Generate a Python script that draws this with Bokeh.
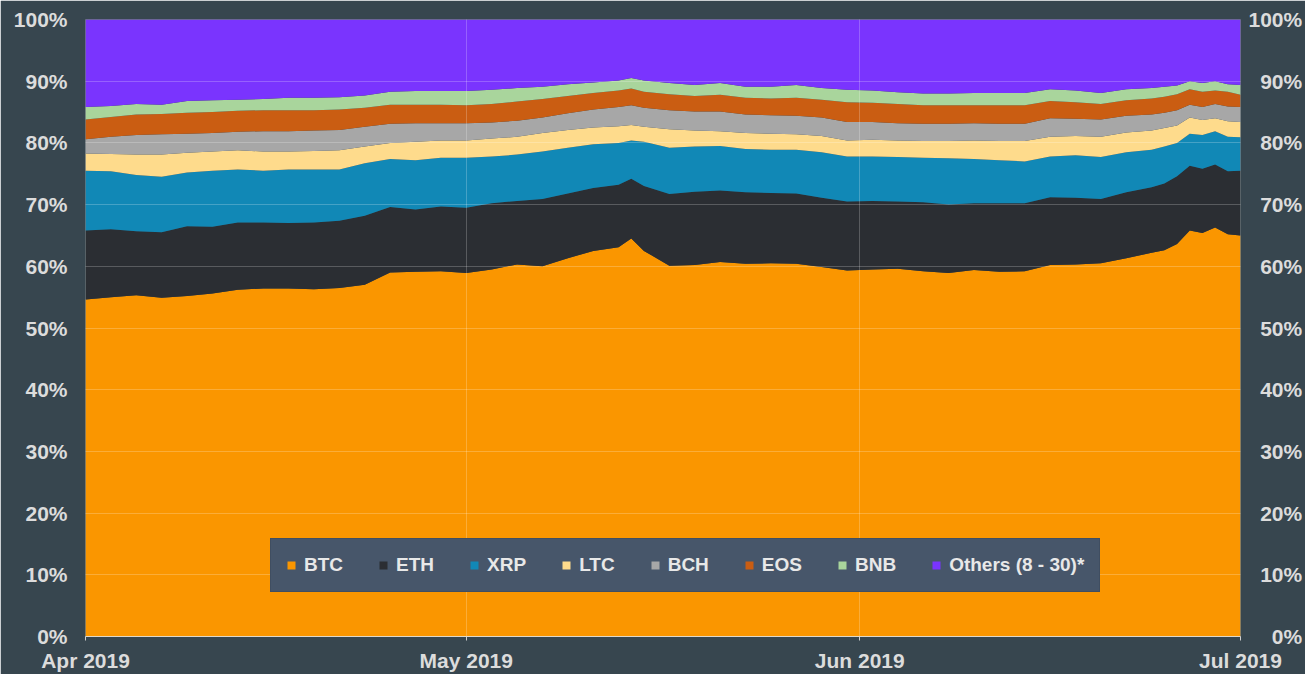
import pandas as pd
from bokeh.plotting import figure
from bokeh.models import (ColumnDataSource, Range1d, LinearAxis, FixedTicker,
                          DatetimeTickFormatter, PrintfTickFormatter)
from bokeh.embed import file_html
from bokeh.resources import INLINE

# ---------------- data (market share, % of total) ----------------
dates = ["2019-04-01", "2019-04-03", "2019-04-05", "2019-04-07", "2019-04-09", "2019-04-11",
         "2019-04-13", "2019-04-15", "2019-04-17", "2019-04-19", "2019-04-21", "2019-04-23",
         "2019-04-25", "2019-04-27", "2019-04-29", "2019-05-01", "2019-05-03", "2019-05-05",
         "2019-05-07", "2019-05-09", "2019-05-11", "2019-05-13", "2019-05-14", "2019-05-15",
         "2019-05-17", "2019-05-19", "2019-05-21", "2019-05-23", "2019-05-25", "2019-05-27",
         "2019-05-29", "2019-05-31", "2019-06-02", "2019-06-04", "2019-06-06", "2019-06-08",
         "2019-06-10", "2019-06-12", "2019-06-14", "2019-06-16", "2019-06-18", "2019-06-20",
         "2019-06-22", "2019-06-24", "2019-06-25", "2019-06-26", "2019-06-27", "2019-06-28",
         "2019-06-29", "2019-06-30", "2019-07-01"]

btc = [54.6, 55.0, 55.3, 54.9, 55.2, 55.6, 56.2, 56.4, 56.4, 56.3, 56.5, 57.0, 59.0, 59.1, 59.2,
       58.9, 59.5, 60.3, 60.0, 61.3, 62.5, 63.1, 64.5, 62.5, 60.1, 60.2, 60.7, 60.4, 60.5, 60.4,
       59.9, 59.3, 59.5, 59.6, 59.2, 58.9, 59.4, 59.1, 59.2, 60.2, 60.3, 60.5, 61.3, 62.2, 62.6,
       63.6, 65.8, 65.4, 66.3, 65.2, 65.0]
eth = [11.2, 11.0, 10.4, 10.6, 11.3, 10.8, 10.9, 10.7, 10.6, 10.8, 10.9, 11.2, 10.6, 10.1, 10.5,
       10.6, 10.7, 10.3, 10.9, 10.5, 10.2, 10.1, 9.7, 10.5, 11.6, 11.9, 11.6, 11.6, 11.4, 11.4,
       11.2, 11.2, 11.1, 10.9, 11.2, 11.1, 10.8, 11.1, 11.0, 11.0, 10.8, 10.4, 10.7, 10.6, 10.8,
       11.0, 10.5, 10.4, 10.2, 10.2, 10.5]
xrp = [9.7, 9.4, 9.1, 9.0, 8.7, 9.1, 8.6, 8.4, 8.7, 8.6, 8.3, 8.5, 7.8, 8.0, 7.9,
       8.1, 7.6, 7.5, 7.7, 7.4, 7.1, 6.8, 6.2, 7.2, 7.5, 7.3, 7.2, 7.0, 7.0, 7.1,
       7.4, 7.3, 7.2, 7.2, 7.2, 7.5, 7.2, 7.0, 6.8, 6.6, 6.9, 6.8, 6.5, 6.1, 6.0,
       5.4, 5.2, 5.5, 5.4, 5.6, 5.4]
ltc = [2.8, 2.8, 3.3, 3.6, 3.2, 3.1, 3.1, 3.1, 2.9, 3.0, 3.1, 2.7, 2.6, 3.0, 2.8,
       2.8, 2.9, 2.9, 3.0, 2.9, 2.7, 2.7, 2.5, 2.4, 3.0, 2.6, 2.4, 2.6, 2.6, 2.5,
       2.6, 2.6, 2.7, 2.7, 2.7, 2.8, 3.0, 3.1, 3.3, 3.2, 3.1, 3.3, 3.2, 3.1, 3.0,
       2.8, 2.6, 2.4, 2.1, 2.5, 2.5]
bch = [2.3, 2.8, 3.2, 3.3, 3.1, 3.0, 3.0, 3.3, 3.3, 3.3, 3.3, 3.2, 3.1, 3.0, 2.8,
       2.8, 2.6, 2.6, 2.5, 2.7, 2.9, 3.1, 3.2, 3.1, 3.1, 3.1, 3.2, 3.0, 3.0, 3.0,
       3.0, 3.0, 2.9, 2.8, 2.8, 2.8, 2.8, 2.8, 2.8, 3.0, 2.8, 2.8, 2.7, 2.6, 2.5,
       2.5, 2.1, 2.1, 2.3, 2.4, 2.4]
eos = [3.2, 3.2, 3.3, 3.3, 3.4, 3.4, 3.4, 3.4, 3.4, 3.3, 3.3, 3.1, 3.1, 3.0, 3.0,
       2.9, 3.0, 3.1, 3.0, 2.8, 2.7, 2.7, 2.7, 2.6, 2.6, 2.5, 2.7, 2.7, 2.7, 2.9,
       2.9, 3.2, 3.1, 3.1, 3.0, 3.0, 2.9, 3.0, 3.0, 2.8, 2.7, 2.5, 2.5, 2.6, 2.6,
       2.6, 2.5, 2.5, 2.2, 2.4, 2.0]
bnb = [2.0, 1.8, 1.7, 1.5, 1.9, 1.9, 1.8, 1.8, 2.0, 2.0, 2.0, 2.0, 2.1, 2.2, 2.2,
       2.3, 2.3, 2.2, 2.0, 1.9, 1.7, 1.6, 1.7, 1.8, 1.8, 1.8, 1.9, 1.8, 1.9, 2.1,
       1.9, 2.0, 2.0, 1.9, 1.9, 1.9, 2.0, 2.0, 2.0, 1.9, 1.9, 1.8, 1.8, 1.7, 1.6,
       1.4, 1.3, 1.4, 1.5, 1.2, 1.6]
others = [14.2, 14.0, 13.7, 13.8, 13.2, 13.1, 13.0, 12.9, 12.7, 12.7, 12.6, 12.3, 11.7, 11.6, 11.6,
          11.6, 11.4, 11.1, 10.9, 10.5, 10.2, 9.9, 9.5, 9.9, 10.3, 10.6, 10.3, 10.9, 10.9, 10.6,
          11.1, 11.4, 11.5, 11.8, 12.0, 12.0, 11.9, 11.9, 11.9, 11.3, 11.5, 11.9, 11.3, 11.1, 10.9,
          10.7, 10.0, 10.3, 10.0, 10.5, 10.6]

series_keys = ["BTC", "ETH", "XRP", "LTC", "BCH", "EOS", "BNB", "OTH"]
series_labels = ["BTC", "ETH", "XRP", "LTC", "BCH", "EOS", "BNB", "Others (8 - 30)*"]
series_colors = ["#fa9600", "#2b2e33", "#1188b6", "#fedb8c", "#a7a7a7", "#ca5d12", "#a9d59c", "#7a34fe"]

tick_dates = ["2019-04-01", "2019-05-01", "2019-06-01", "2019-07-01"]
y_ticks = [0, 10, 20, 30, 40, 50, 60, 70, 80, 90, 100]

# ---------------- figure ----------------
BG = "#37464f"
TXT = "#dcdcdc"
FONT = "Liberation Sans"
FS = "21px"

x = pd.to_datetime(dates)
src = ColumnDataSource(dict(date=x, BTC=btc, ETH=eth, XRP=xrp, LTC=ltc, BCH=bch,
                            EOS=eos, BNB=bnb, OTH=others))

p = figure(width=1305, height=674, x_axis_type="datetime",
           output_backend="svg", toolbar_location=None,
           x_range=Range1d(x[0], x[-1]), y_range=Range1d(0, 100),
           min_border_left=85, min_border_right=65, min_border_top=19, min_border_bottom=37,
           background_fill_color=BG, border_fill_color=BG, outline_line_color=None)

p.varea_stack(stackers=series_keys, x="date", color=series_colors, source=src,
              legend_label=series_labels)

tick_ms = [pd.Timestamp(d).value // 10**6 for d in tick_dates]

# x axis
xa = p.xaxis[0]
xa.ticker = FixedTicker(ticks=tick_ms)
xa.formatter = DatetimeTickFormatter(days="%b %Y", months="%b %Y", years="%b %Y")
xa.axis_line_color = "#e2d9c8"
xa.axis_line_width = 1
xa.major_tick_line_color = "#cfcfcf"
xa.major_tick_out = 4
xa.major_tick_in = 0
xa.minor_tick_line_color = None
xa.major_label_standoff = 8
xa.major_label_text_font = FONT
xa.major_label_text_font_style = "bold"
xa.major_label_text_font_size = FS
xa.major_label_text_color = TXT

# left y axis
ya = p.yaxis[0]
ya.ticker = FixedTicker(ticks=y_ticks)
ya.formatter = PrintfTickFormatter(format="%d%%")
ya.axis_line_color = None
ya.major_tick_line_color = None
ya.minor_tick_line_color = None
ya.major_tick_out = 0
ya.major_tick_in = 0
ya.major_label_standoff = 18
ya.major_label_text_font = FONT
ya.major_label_text_font_style = "bold"
ya.major_label_text_font_size = FS
ya.major_label_text_color = TXT

# right y axis (labels right-aligned via figure spaces)
right_labels = {t: ("\u2007" * (3 - len(str(t)))) + f"{t}%" for t in y_ticks}
ra = LinearAxis(ticker=FixedTicker(ticks=y_ticks), major_label_overrides=right_labels,
                axis_line_color=None, major_tick_line_color=None, minor_tick_line_color=None,
                major_tick_out=0, major_tick_in=0, major_label_standoff=8,
                major_label_text_font=FONT, major_label_text_font_style="bold",
                major_label_text_font_size=FS, major_label_text_color=TXT)
p.add_layout(ra, "right")

# grid drawn over the areas
p.xgrid.ticker = FixedTicker(ticks=tick_ms)
p.ygrid.ticker = FixedTicker(ticks=y_ticks)
for g in (p.xgrid[0], p.ygrid[0]):
    g.grid_line_color = "#ffffff"
    g.grid_line_alpha = 0.22
    g.grid_line_width = 1
    g.level = "guide"

# legend
lg = p.legend[0]
lg.orientation = "horizontal"
lg.location = (185, 44)
lg.background_fill_color = "#47566a"
lg.background_fill_alpha = 1
lg.border_line_color = "#3a4657"
lg.border_line_width = 1
lg.glyph_width = 10
lg.glyph_height = 10
lg.label_standoff = 8
lg.spacing = 35
lg.padding = 15
lg.margin = 0
lg.label_text_font = FONT
lg.label_text_font_style = "bold"
lg.label_text_font_size = "19px"
lg.label_text_color = "#e8e8e8"
lg.label_text_baseline = "middle"

open("out.html", "w").write(file_html(p, INLINE))
